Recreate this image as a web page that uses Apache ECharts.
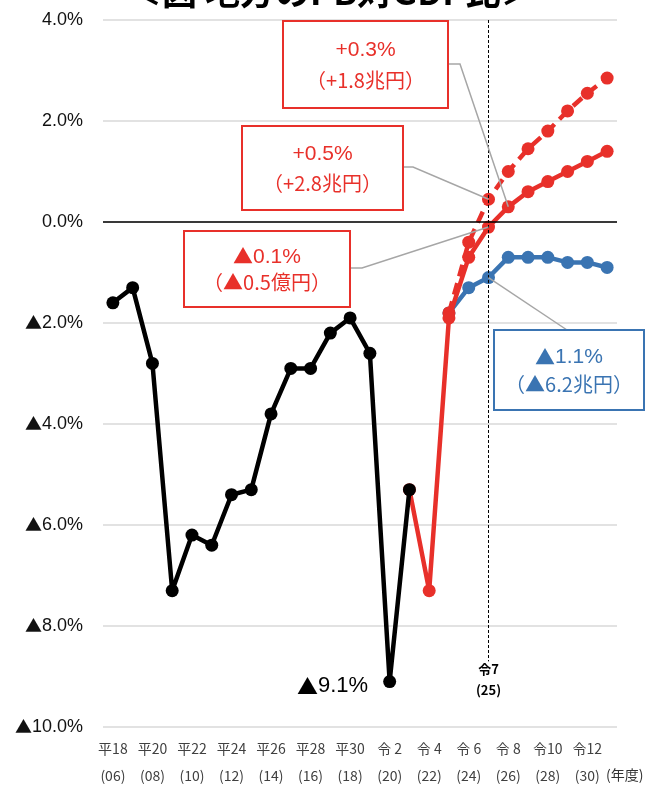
<!DOCTYPE html>
<html><head><meta charset="utf-8">
<script src="https://cdn.jsdelivr.net/npm/echarts@6/dist/echarts.min.js"></script>
<style>html,body{margin:0;padding:0;background:#fff}#c{width:654px;height:785px}</style>
</head><body><div id="c"></div>
<script>
// ---- data ----
const years = ['2006','2007','2008','2009','2010','2011','2012','2013','2014','2015','2016','2017','2018','2019','2020','2021','2022','2023','2024','2025','2026','2027','2028','2029','2030','2031'];
const eraLabels = ['平18','平19','平20','平21','平22','平23','平24','平25','平26','平27','平28','平29','平30','令元','令 2','令 3','令 4','令 5','令 6','令 7','令 8','令 9','令10','令11','令12','令13'];
const fyLabels = ['06','07','08','09','10','11','12','13','14','15','16','17','18','19','20','21','22','23','24','25','26','27','28','29','30','31'];
const actual = [-1.6,-1.3,-2.8,-7.3,-6.2,-6.4,-5.4,-5.3,-3.8,-2.9,-2.9,-2.2,-1.9,-2.6,-9.1,-5.3,null,null,null,null,null,null,null,null,null,null];
const baseCase = [null,null,null,null,null,null,null,null,null,null,null,null,null,null,null,-5.3,-7.3,-1.9,-0.7,-0.1,0.3,0.6,0.8,1.0,1.2,1.4];
const growthCase = [null,null,null,null,null,null,null,null,null,null,null,null,null,null,null,null,null,-1.8,-0.4,0.45,1.0,1.45,1.8,2.2,2.55,2.85];
const pastGrowth = [null,null,null,null,null,null,null,null,null,null,null,null,null,null,null,null,null,-1.8,-1.3,-1.1,-0.7,-0.7,-0.7,-0.8,-0.8,-0.9];
const yTicks = [-10,-8,-6,-4,-2,0,2,4];
const title = '＜図 地方のPB対GDP比＞';
const markerYear = '2025';
const markerText = '令7\n(25)';
const minLabel = '9.1%';
const unitLabel = '(年度)';
const notes = [
  {line1:'+0.3%', line2:'（+1.8兆円）', series:'base', year:'2026'},
  {line1:'+0.5%', line2:'（+2.8兆円）', series:'growth', year:'2025'},
  {line1:'▲0.1%', line2:'（▲0.5億円）', series:'base', year:'2025'},
  {line1:'▲1.1%', line2:'（▲6.2兆円）', series:'past', year:'2025'}
];

// ---- styles / layout ----
const RED = '#e8302a', BLUE = '#3a74b2', BLACK = '#000';
const FONT = '"Liberation Sans", Arial, sans-serif';
const CJK = '"Noto Sans CJK JP", sans-serif';
const noteLayout = [
  {x:283, y:21, w:165, h:87, color:RED, elbow:[[448,64],[460,64]]},
  {x:242, y:126, w:161, h:84, color:RED, elbow:[[403,167],[413,167]]},
  {x:184, y:231, w:166, h:76, color:RED, elbow:[[350,268],[362,268]]},
  {x:494, y:330, w:150, h:80, color:BLUE, elbow:[[567,330]]}
];

const chart = echarts.init(document.getElementById('c'));
const fmtY = v => (v < 0 ? '{t|▲}' + Math.abs(v).toFixed(1) : v.toFixed(1)) + '%';

const lineSeries = (name, data, color, extra) => Object.assign({
  name, type:'line', data, symbol:'circle', symbolSize:13, connectNulls:false,
  itemStyle:{color}, lineStyle:{color, width:4.5}, emphasis:{disabled:true}, animation:false
}, extra || {});

const option = {
  animation:false,
  title:{text:title, left:122, top:-31, textStyle:{fontSize:35, fontWeight:'bold', color:'#000', fontFamily:CJK}},
  grid:{left:103, right:37, top:20, bottom:58, outerBoundsMode:'none', containLabel:false},
  xAxis:{
    type:'category', data:years, boundaryGap:true,
    axisLine:{show:false}, axisTick:{show:false},
    axisLabel:{interval:1, margin:8, fontSize:14, lineHeight:27, color:'#404040', fontFamily:CJK,
      formatter:(v, i) => eraLabels[i] + '\n(' + fyLabels[i] + ')'}
  },
  yAxis:{
    type:'value', min:yTicks[0], max:yTicks[yTicks.length-1], interval:2,
    axisLine:{show:false}, axisTick:{show:false},
    splitLine:{lineStyle:{color:'#d9d9d9', width:1.5}},
    axisLabel:{formatter:fmtY, fontSize:18, color:'#111', margin:20, fontFamily:FONT,
      rich:{t:{fontSize:17, fontFamily:CJK, color:'#111'}}}
  },
  series:[
    {type:'line', data:[], silent:true, z:1,
      markLine:{silent:true, symbol:'none', animation:false, label:{show:false},
        lineStyle:{color:BLACK, width:1.5, type:'solid'}, data:[{yAxis:0}]}},
    {type:'line', data:[], silent:true, z:1,
      markLine:{silent:true, symbol:'none', animation:false,
        lineStyle:{color:BLACK, width:1, type:[3,2]},
        label:{show:true, position:'end', formatter:markerText, fontSize:13, fontWeight:'bold', color:'#000', lineHeight:21, distance:-3, fontFamily:CJK},
        data:[[{coord:[markerYear, 4]}, {coord:[markerYear, -8.7]}]]}},
    lineSeries('past', pastGrowth, BLUE, {z:2}),
    lineSeries('growth', growthCase, RED, {z:3, lineStyle:{color:RED, width:4.5, type:[12,7]}}),
    lineSeries('base', baseCase, RED, {z:4}),
    lineSeries('actual', actual.map((v,i) => i === 14 ? {value:v, label:{show:true, position:'left', distance:15, formatter:'{t|▲}' + minLabel, fontSize:22, color:'#000', fontFamily:FONT, offset:[0,4],
      rich:{t:{fontSize:21, fontFamily:CJK, color:'#000'}}}} : v), BLACK, {z:5})
  ]
};
chart.setOption(option);

const richLine = s => s.replace(/▲/g, '{t|▲}');
const seriesData = {base:baseCase, growth:growthCase, past:pastGrowth};
const graphics = [];
notes.forEach((n, k) => {
  const L = noteLayout[k];
  const idx = years.indexOf(n.year);
  const p = chart.convertToPixel({gridIndex:0}, [idx, seriesData[n.series][idx]]);
  graphics.push({type:'polyline', z:50, silent:true,
    shape:{points:L.elbow.concat([p])}, style:{stroke:'#a6a6a6', lineWidth:1.5, fill:null}});
  graphics.push({type:'rect', z:60, silent:true,
    shape:{x:L.x, y:L.y, width:L.w, height:L.h}, style:{fill:'#fff', stroke:L.color, lineWidth:2}});
  graphics.push({type:'text', z:61, silent:true, x:L.x + L.w/2, y:L.y + L.h*0.34,
    style:{text:richLine(n.line1), fill:L.color, fontSize:21, fontFamily:FONT, align:'center', verticalAlign:'middle',
      rich:{t:{fontSize:20, fontFamily:CJK, fill:L.color}}}});
  graphics.push({type:'text', z:61, silent:true, x:L.x + L.w/2, y:L.y + L.h*0.68,
    style:{text:n.line2, fill:L.color, fontSize:20, fontFamily:CJK, align:'center', verticalAlign:'middle'}});
});
graphics.push({type:'text', z:61, silent:true, x:606, y:775,
  style:{text:unitLabel, fill:'#333', fontSize:14, fontFamily:CJK, verticalAlign:'middle'}});
chart.setOption({graphic:graphics});
</script></body></html>
